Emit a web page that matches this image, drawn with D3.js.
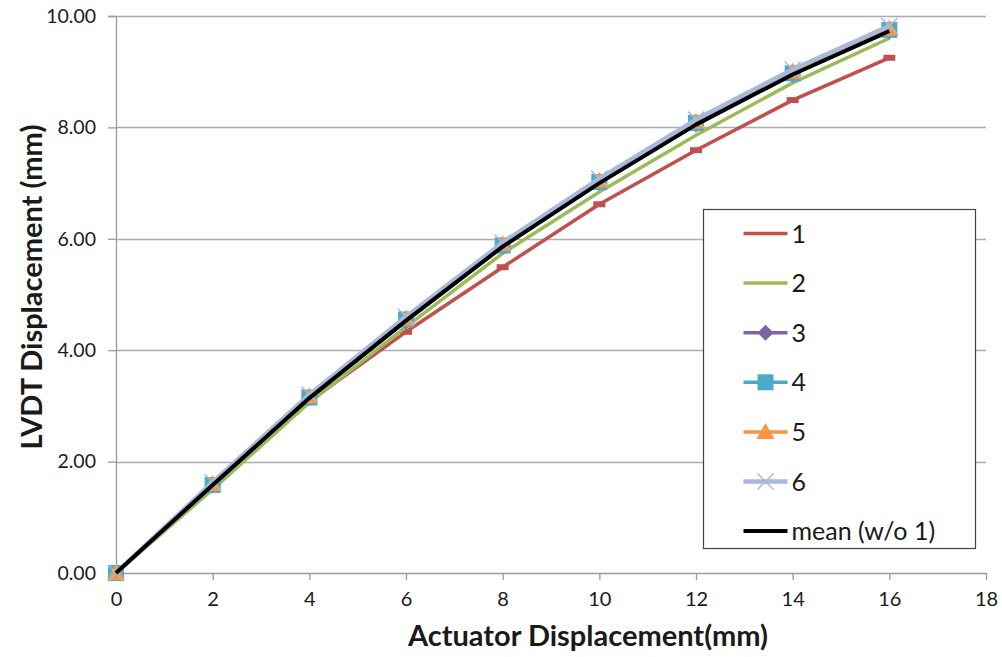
<!DOCTYPE html>
<html>
<head>
<meta charset="utf-8">
<script src="https://cdn.jsdelivr.net/npm/d3@7"></script>
<style>
  body { margin: 0; background: #fff; }
  text { font-family: Lato, 'Liberation Sans', sans-serif; fill: #1a1a1a; }
</style>
</head>
<body>
<div id="chart"></div>
<script>
const xValues = [0, 2, 4, 6, 8, 10, 12, 14, 16];
const s1 = [0, 1.55, 3.08, 4.33, 5.49, 6.62, 7.59, 8.49, 9.25];
const s2 = [0, 1.50, 3.06, 4.42, 5.74, 6.84, 7.86, 8.80, 9.60];
const s3 = [0, 1.57, 3.14, 4.52, 5.86, 7.00, 8.05, 8.95, 9.72];
const s4 = [0, 1.58, 3.15, 4.55, 5.88, 7.02, 8.08, 8.97, 9.75];
const s5 = [0, 1.60, 3.17, 4.57, 5.90, 7.04, 8.10, 9.00, 9.77];
const s6 = [0, 1.63, 3.20, 4.60, 5.93, 7.08, 8.14, 9.04, 9.82];
const sMean = [0, 1.58, 3.14, 4.53, 5.86, 7.00, 8.05, 8.95, 9.73];
const seriesNames = ['1', '2', '3', '4', '5', '6', 'mean (w/o 1)'];
const xTicks = [0, 2, 4, 6, 8, 10, 12, 14, 16, 18];
const yTicks = [0, 2, 4, 6, 8, 10];

const series = [
  { name: seriesNames[0], values: s1, color: '#C0504D', marker: 'dash', width: 3.5 },
  { name: seriesNames[1], values: s2, color: '#9BBB59', marker: 'none', width: 3.5 },
  { name: seriesNames[2], values: s3, color: '#8064A2', marker: 'diamond', width: 3.5 },
  { name: seriesNames[3], values: s4, color: '#4BACC6', marker: 'square', width: 3.5 },
  { name: seriesNames[4], values: s5, color: '#F79646', marker: 'triangle', width: 3.5 },
  { name: seriesNames[5], values: s6, color: '#A7B9DD', marker: 'x', width: 4.5 },
  { name: seriesNames[6], values: sMean, color: '#000000', marker: 'none', width: 4 },
];

const width = 1002, height = 657;
const margin = { top: 16, right: 16, bottom: 84, left: 116 };
const innerW = 986 - margin.left;
const innerH = 573 - margin.top;

const svg = d3.select('#chart').append('svg')
  .attr('width', width)
  .attr('height', height);

const g = svg.append('g').attr('transform', `translate(${margin.left}, ${margin.top})`);

const x = d3.scaleLinear().domain([0, 18]).range([0, innerW]);
const y = d3.scaleLinear().domain([0, 10]).range([innerH, 0]);

// gridlines
g.selectAll('.grid')
  .data(yTicks.filter((d) => d > 0))
  .enter()
  .append('line')
  .attr('x1', 0)
  .attr('x2', innerW)
  .attr('y1', (d) => Math.round(y(d)) + 0.5)
  .attr('y2', (d) => Math.round(y(d)) + 0.5)
  .attr('stroke', '#ADADAD')
  .attr('stroke-width', 1.3);

// y axis
const yAxis = g.append('g')
  .call(d3.axisLeft(y).tickValues(yTicks).tickSize(8).tickPadding(12).tickFormat(d3.format('.2f')));
yAxis.select('.domain').attr('stroke', '#9A9A9A').attr('stroke-width', 1.3);
yAxis.selectAll('.tick line').attr('stroke', '#9A9A9A').attr('stroke-width', 1.3);
yAxis.selectAll('.tick text')
  .style('font-family', 'Lato, sans-serif')
  .style('font-size', '19.5px')
  .attr('fill', '#222');

// x axis
const xAxis = g.append('g')
  .attr('transform', `translate(0, ${innerH})`)
  .call(d3.axisBottom(x).tickValues(xTicks).tickSize(7).tickPadding(12).tickSizeOuter(0));
xAxis.select('.domain').attr('stroke', '#9A9A9A').attr('stroke-width', 1.3);
xAxis.selectAll('.tick line').attr('stroke', '#9A9A9A').attr('stroke-width', 1.3);
xAxis.selectAll('.tick text')
  .style('font-family', 'Lato, sans-serif')
  .style('font-size', '20px')
  .attr('fill', '#222');

// markers
function drawMarker(sel, type, color, cx, cy) {
  if (type === 'dash') {
    sel.append('rect').attr('x', cx - 6).attr('y', cy - 3).attr('width', 12).attr('height', 6).attr('fill', color);
  } else if (type === 'diamond') {
    sel.append('path').attr('d', `M${cx},${cy - 8}L${cx + 8},${cy}L${cx},${cy + 8}L${cx - 8},${cy}Z`).attr('fill', color);
  } else if (type === 'square') {
    sel.append('rect').attr('x', cx - 8).attr('y', cy - 8).attr('width', 16).attr('height', 16).attr('fill', color);
  } else if (type === 'triangle') {
    sel.append('path').attr('d', `M${cx},${cy - 9}L${cx + 9},${cy + 7}L${cx - 9},${cy + 7}Z`).attr('fill', color);
  } else if (type === 'x') {
    sel.append('path').attr('d', `M${cx - 8},${cy - 8}L${cx + 8},${cy + 8}M${cx + 8},${cy - 8}L${cx - 8},${cy + 8}`)
      .attr('stroke', color).attr('stroke-width', 1.5).attr('fill', 'none');
  }
}

const line = d3.line().x((d) => x(d[0])).y((d) => y(d[1]));

series.forEach((s) => {
  const pts = xValues.map((xv, i) => [xv, s.values[i]]);
  const sg = g.append('g');
  sg.append('path')
    .attr('d', line(pts))
    .attr('fill', 'none')
    .attr('stroke', s.color)
    .attr('stroke-width', s.width)
    .attr('stroke-linejoin', 'round');
  if (s.marker !== 'none') {
    pts.forEach((p) => drawMarker(sg, s.marker, s.color, x(p[0]), y(p[1])));
  }
});

// legend
const legend = svg.append('g').attr('transform', 'translate(703.5, 209.5)');
legend.append('rect')
  .attr('width', 272)
  .attr('height', 339)
  .attr('fill', '#fff')
  .attr('stroke', '#444')
  .attr('stroke-width', 1.2);

series.forEach((s, i) => {
  const ly = 24 + i * 49.6;
  const item = legend.append('g');
  item.append('line')
    .attr('x1', 40).attr('x2', 84)
    .attr('y1', ly).attr('y2', ly)
    .attr('stroke', s.color)
    .attr('stroke-width', s.width);
  if (s.marker !== 'none' && s.marker !== 'dash') {
    drawMarker(item, s.marker, s.color, 62, ly);
  }
  item.append('text')
    .attr('x', 88)
    .attr('y', ly)
    .attr('dy', '0.36em')
    .style('font-size', '25px')
    .text(s.name);
});

// axis titles
svg.append('text')
  .attr('x', 588)
  .attr('y', 646)
  .attr('text-anchor', 'middle')
  .style('font-size', '29px')
  .style('font-weight', 'bold')
  .text('Actuator Displacement(mm)');

svg.append('text')
  .attr('transform', 'translate(42, 287) rotate(-90)')
  .attr('text-anchor', 'middle')
  .style('font-size', '29px')
  .style('font-weight', 'bold')
  .text('LVDT Displacement (mm)');
</script>
</body>
</html>
